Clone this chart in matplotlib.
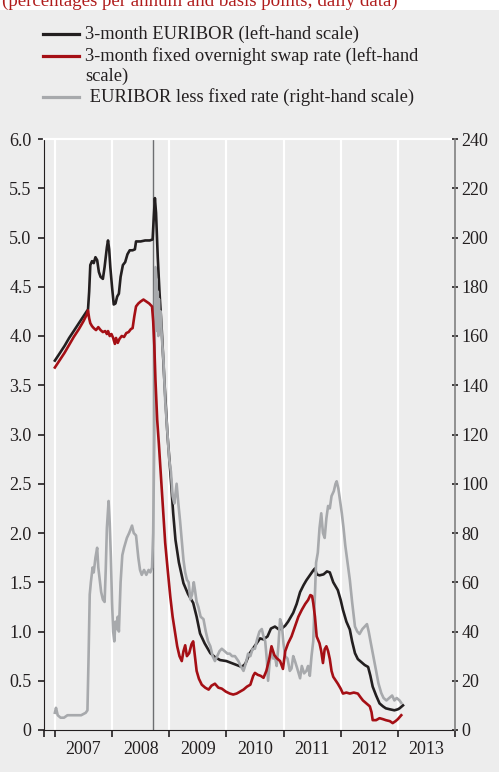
import matplotlib.pyplot as plt
from matplotlib.lines import Line2D
from matplotlib.patches import Rectangle
from matplotlib.ticker import FixedLocator, FuncFormatter

plt.rcParams['font.family'] = ['Liberation Serif', 'DejaVu Serif']

# 3-month EURIBOR, percent (decimal years)
euribor_t = [2007.00, 2007.08, 2007.17, 2007.25, 2007.33, 2007.42, 2007.50, 2007.58, 2007.60, 2007.62,
             2007.65, 2007.68, 2007.71, 2007.74, 2007.77, 2007.80, 2007.84, 2007.87, 2007.91, 2007.93,
             2007.95, 2007.97, 2008.00, 2008.03, 2008.06, 2008.09, 2008.12, 2008.15, 2008.19, 2008.23,
             2008.27, 2008.31, 2008.36, 2008.40, 2008.42, 2008.50, 2008.58, 2008.66, 2008.71, 2008.73,
             2008.75, 2008.77, 2008.80, 2008.83, 2008.87, 2008.92, 2008.97, 2009.03, 2009.07, 2009.11,
             2009.17, 2009.25, 2009.33, 2009.42, 2009.48, 2009.54, 2009.62, 2009.72, 2009.80, 2009.89,
             2010.00, 2010.09, 2010.18, 2010.27, 2010.33, 2010.41, 2010.47, 2010.53, 2010.59, 2010.65,
             2010.72, 2010.78, 2010.85, 2010.92, 2010.97, 2011.03, 2011.08, 2011.17, 2011.23, 2011.29,
             2011.35, 2011.40, 2011.46, 2011.52, 2011.55, 2011.58, 2011.63, 2011.70, 2011.76, 2011.81,
             2011.87, 2011.95, 2012.00, 2012.04, 2012.10, 2012.16, 2012.20, 2012.25, 2012.30, 2012.36,
             2012.42, 2012.48, 2012.52, 2012.56, 2012.62, 2012.68, 2012.74, 2012.79, 2012.86, 2012.94,
             2013.00, 2013.03, 2013.09]
euribor = [3.75, 3.82, 3.90, 3.98, 4.05, 4.13, 4.20, 4.27, 4.45, 4.72,
           4.76, 4.74, 4.80, 4.77, 4.65, 4.60, 4.58, 4.70, 4.90, 4.97,
           4.88, 4.70, 4.50, 4.32, 4.33, 4.40, 4.43, 4.60, 4.72, 4.75,
           4.83, 4.87, 4.87, 4.88, 4.96, 4.96, 4.97, 4.97, 4.98, 5.20,
           5.40, 5.25, 4.80, 4.45, 4.06, 3.50, 3.00, 2.54, 2.20, 1.93,
           1.70, 1.49, 1.38, 1.29, 1.15, 0.98, 0.88, 0.78, 0.74, 0.71,
           0.70, 0.68, 0.66, 0.64, 0.67, 0.78, 0.83, 0.88, 0.93, 0.92,
           0.95, 1.03, 1.05, 1.02, 1.03, 1.06, 1.10, 1.19, 1.28, 1.40,
           1.47, 1.52, 1.57, 1.62, 1.64, 1.58, 1.57, 1.58, 1.61, 1.60,
           1.50, 1.42, 1.32, 1.22, 1.10, 1.02, 0.90, 0.78, 0.72, 0.69,
           0.66, 0.64, 0.55, 0.44, 0.35, 0.27, 0.24, 0.22, 0.21, 0.20,
           0.21, 0.22, 0.25]

# 3-month fixed overnight swap rate, percent
ois_t = [2007.00, 2007.08, 2007.17, 2007.25, 2007.33, 2007.42, 2007.50, 2007.56, 2007.58, 2007.60,
         2007.62, 2007.65, 2007.68, 2007.72, 2007.76, 2007.80, 2007.84, 2007.88, 2007.91, 2007.93,
         2007.96, 2007.99, 2008.02, 2008.05, 2008.07, 2008.10, 2008.13, 2008.17, 2008.21, 2008.25,
         2008.29, 2008.33, 2008.36, 2008.39, 2008.42, 2008.46, 2008.50, 2008.55, 2008.60, 2008.65,
         2008.70, 2008.72, 2008.74, 2008.76, 2008.79, 2008.82, 2008.87, 2008.93, 2008.97, 2009.02,
         2009.06, 2009.10, 2009.14, 2009.18, 2009.22, 2009.25, 2009.28, 2009.31, 2009.35, 2009.39,
         2009.42, 2009.45, 2009.48, 2009.52, 2009.57, 2009.63, 2009.69, 2009.74, 2009.80, 2009.86,
         2009.92, 2009.99, 2010.06, 2010.12, 2010.18, 2010.24, 2010.30, 2010.36, 2010.42, 2010.47,
         2010.50, 2010.55, 2010.60, 2010.65, 2010.70, 2010.75, 2010.79, 2010.84, 2010.88, 2010.94,
         2010.99, 2011.03, 2011.08, 2011.14, 2011.20, 2011.26, 2011.32, 2011.38, 2011.43, 2011.47,
         2011.50, 2011.52, 2011.55, 2011.58, 2011.63, 2011.66, 2011.69, 2011.72, 2011.75, 2011.78,
         2011.81, 2011.84, 2011.87, 2011.95, 2012.00, 2012.04, 2012.10, 2012.16, 2012.23, 2012.30,
         2012.35, 2012.39, 2012.45, 2012.51, 2012.54, 2012.56, 2012.62, 2012.68, 2012.74, 2012.79,
         2012.86, 2012.91, 2012.96, 2013.00, 2013.06]
ois = [3.68, 3.75, 3.83, 3.91, 3.99, 4.07, 4.15, 4.22, 4.26, 4.18,
       4.13, 4.10, 4.08, 4.06, 4.09, 4.06, 4.04, 4.05, 4.02, 4.05,
       4.00, 4.02, 3.98, 3.92, 3.98, 3.93, 3.97, 4.00, 3.99, 4.03,
       4.04, 4.07, 4.08, 4.20, 4.30, 4.33, 4.35, 4.37, 4.35, 4.33,
       4.30, 4.15, 3.90, 3.55, 3.15, 2.90, 2.45, 1.90, 1.65, 1.35,
       1.15, 1.00, 0.85, 0.75, 0.70, 0.80, 0.86, 0.75, 0.78, 0.87,
       0.90, 0.75, 0.60, 0.52, 0.46, 0.43, 0.41, 0.45, 0.47, 0.43,
       0.42, 0.39, 0.37, 0.36, 0.37, 0.39, 0.41, 0.44, 0.46, 0.55,
       0.58, 0.56, 0.55, 0.53, 0.60, 0.72, 0.85, 0.76, 0.73, 0.70,
       0.62, 0.80, 0.88, 0.95, 1.05, 1.15, 1.22, 1.28, 1.32, 1.37,
       1.36, 1.29, 1.15, 0.95, 0.88, 0.80, 0.68, 0.82, 0.85, 0.80,
       0.72, 0.60, 0.54, 0.47, 0.42, 0.37, 0.38, 0.37, 0.38, 0.37,
       0.33, 0.30, 0.27, 0.24, 0.18, 0.10, 0.10, 0.12, 0.11, 0.10,
       0.09, 0.07, 0.09, 0.11, 0.15]

# EURIBOR less fixed rate, basis points
spread_t = [2007.00, 2007.02, 2007.05, 2007.10, 2007.16, 2007.22, 2007.30, 2007.38, 2007.46, 2007.54,
            2007.57, 2007.59, 2007.61, 2007.63, 2007.66, 2007.68, 2007.71, 2007.74, 2007.76, 2007.78,
            2007.81, 2007.84, 2007.87, 2007.89, 2007.91, 2007.94, 2007.96, 2007.98, 2008.00, 2008.02,
            2008.04, 2008.06, 2008.08, 2008.10, 2008.12, 2008.15, 2008.18, 2008.21, 2008.26, 2008.30,
            2008.35, 2008.38, 2008.42, 2008.46, 2008.49, 2008.52, 2008.56, 2008.60, 2008.64, 2008.67,
            2008.70, 2008.72, 2008.74, 2008.75, 2008.76, 2008.77, 2008.78, 2008.79, 2008.80, 2008.81,
            2008.82, 2008.83, 2008.85, 2008.87, 2008.90, 2008.93, 2008.97, 2009.00, 2009.03, 2009.06,
            2009.09, 2009.13, 2009.16, 2009.19, 2009.22, 2009.25, 2009.28, 2009.31, 2009.34, 2009.37,
            2009.40, 2009.43, 2009.45, 2009.48, 2009.51, 2009.55, 2009.60, 2009.64, 2009.68, 2009.72,
            2009.76, 2009.80, 2009.84, 2009.88, 2009.92, 2009.97, 2010.02, 2010.06, 2010.10, 2010.15,
            2010.21, 2010.25, 2010.30, 2010.34, 2010.38, 2010.42, 2010.46, 2010.50, 2010.54, 2010.58,
            2010.62, 2010.65, 2010.68, 2010.71, 2010.73, 2010.76, 2010.79, 2010.82, 2010.85, 2010.88,
            2010.91, 2010.94, 2010.97, 2011.00, 2011.03, 2011.07, 2011.11, 2011.14, 2011.17, 2011.20,
            2011.24, 2011.29, 2011.32, 2011.36, 2011.40, 2011.43, 2011.46, 2011.49, 2011.52, 2011.55,
            2011.57, 2011.60, 2011.63, 2011.66, 2011.69, 2011.72, 2011.75, 2011.78, 2011.81, 2011.84,
            2011.88, 2011.91, 2011.93, 2011.96, 2011.99, 2012.02, 2012.05, 2012.08, 2012.12, 2012.16,
            2012.20, 2012.25, 2012.29, 2012.33, 2012.38, 2012.42, 2012.46, 2012.49, 2012.53, 2012.58,
            2012.62, 2012.66, 2012.71, 2012.75, 2012.80, 2012.85, 2012.90, 2012.94, 2012.98, 2013.03,
            2013.06]
spread = [7, 9, 6, 5, 5, 6, 6, 6, 6, 7,
          8, 30, 55, 60, 66, 64, 70, 74, 66, 62,
          56, 53, 52, 65, 82, 93, 84, 70, 52, 40,
          36, 44, 41, 46, 40, 60, 71, 74, 78, 80,
          83, 80, 79, 70, 65, 63, 65, 63, 65, 64,
          66, 80, 120, 170, 188, 165, 183, 162, 178, 160,
          175, 165, 170, 160, 150, 134, 120, 110, 105, 95,
          92, 100, 92, 85, 77, 69, 64, 61, 60, 53,
          55, 60, 57, 52, 50, 46, 45, 40, 36, 34,
          30, 28, 30, 32, 33, 32, 31, 31, 30, 30,
          28, 26, 24, 27, 31, 30, 33, 33, 37, 40,
          41, 38, 36, 28, 20, 28, 33, 29, 30, 26,
          34, 45, 43, 35, 30, 29, 24, 25, 30, 28,
          25, 21, 26, 23, 24, 26, 22, 30, 36, 55,
          68, 72, 82, 88, 80, 78, 86, 91, 90, 95,
          97, 100, 101, 98, 93, 88, 82, 75, 68, 61,
          52, 42, 40, 39, 41, 42, 43, 40, 35, 29,
          24, 19, 15, 13, 12, 13, 14, 12, 13, 12,
          11]

lehman = 2008.71
years = [2007, 2008, 2009, 2010, 2011, 2012, 2013]
x_start, x_end = 2006.81, 2014.0

bg = '#ededed'
fig = plt.figure(figsize=(4.99, 7.72), dpi=100, facecolor=bg)
ax = fig.add_axes([44 / 499, 1 - 730 / 772, 411 / 499, 591 / 772])
ax.set_facecolor(bg)
ax2 = ax.twinx()

ax.set_xlim(x_start, x_end)
ax.set_ylim(0, 6)
ax2.set_ylim(0, 240)

# white year separators
for yr in years:
    ax.axvline(yr, color='white', lw=1.6, zorder=0)
ax.axvline(lehman, color='#6d6e71', lw=1.0, zorder=1)

ax.plot(euribor_t, euribor, color='#231f20', lw=1.9, zorder=2)
ax.plot(spread_t, spread, color='#a7a9ac', lw=1.9, zorder=3, transform=ax2.transData)
ax.plot(ois_t, ois, color='#a50f15', lw=1.9, zorder=4)
ax.set_xlim(x_start, x_end)
ax.set_ylim(0, 6)

# spines
ax.spines['top'].set_color('white')
ax.spines['top'].set_linewidth(1.6)
ax.spines['right'].set_visible(False)
ax.spines['left'].set_color('#231f20')
ax.spines['bottom'].set_color('#231f20')
for s in ['top', 'left', 'bottom']:
    ax2.spines[s].set_visible(False)
ax2.spines['right'].set_color('#808080')
ax2.spines['right'].set_linewidth(1.2)

# y ticks
ax.set_yticks([i * 0.5 for i in range(13)])
ax.yaxis.set_major_formatter(FuncFormatter(lambda v, p: '0' if v == 0 else '%.1f' % v))
ax.tick_params(axis='y', direction='out', length=4, width=1.2, color='#231f20',
               labelsize=13, pad=5, labelcolor='#231f20')
ax2.set_yticks(range(0, 241, 20))
ax2.tick_params(axis='y', direction='inout', length=5, width=1.2, color='#231f20',
                labelsize=13, pad=2, labelcolor='#231f20')

# x ticks: boundaries as major, year labels centred as minor
ax.xaxis.set_major_locator(FixedLocator([x_start] + years + [x_end]))
ax.xaxis.set_major_formatter(FuncFormatter(lambda v, p: ''))
ax.xaxis.set_minor_locator(FixedLocator([y + 0.5 for y in years]))
ax.xaxis.set_minor_formatter(FuncFormatter(lambda v, p: str(int(v))))
ax.tick_params(axis='x', which='major', direction='out', length=5, width=1.2, color='#231f20')
ax.tick_params(axis='x', which='minor', length=0, labelsize=13, pad=8, labelcolor='#231f20')

# top band and subtitle
fig.patches.append(Rectangle((0, 1 - 10 / 772), 1, 10 / 772, transform=fig.transFigure,
                             facecolor='white', edgecolor='none'))
fig.text(0.004, 1 - 6 / 772, '(percentages per annum and basis points; daily data)',
         color='#b01c1c', fontsize=13.6, va='baseline')

# legend drawn by hand so the red handle sits on the first text line
legend_rows = [
    ('#231f20', 34, [(39.3, '3-month EURIBOR (left-hand scale)')]),
    ('#a50f15', 56, [(60.7, '3-month fixed overnight swap rate (left-hand'), (81, 'scale)')]),
    ('#a7a9ac', 96.7, [(101.7, ' EURIBOR less fixed rate (right-hand scale)')]),
]
for col, ly, lines in legend_rows:
    fig.add_artist(Line2D([43 / 499, 79 / 499], [1 - ly / 772] * 2, transform=fig.transFigure,
                          color=col, lw=2.3))
    for base, label in lines:
        fig.text(85 / 499, 1 - base / 772, label, fontsize=13.3, color='#231f20', va='baseline')

fig.savefig('out.png', dpi=100, facecolor=bg)
